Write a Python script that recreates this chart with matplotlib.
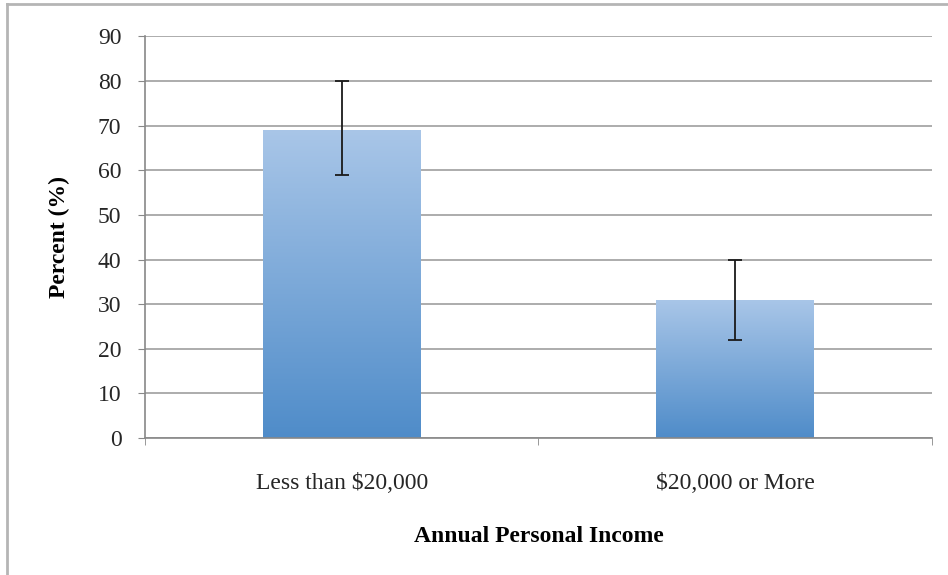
import numpy as np
import matplotlib
matplotlib.use('Agg')
import matplotlib.pyplot as plt
from matplotlib.colors import LinearSegmentedColormap
from matplotlib.lines import Line2D

# data
categories = ['Less than $20,000', '$20,000 or More']
percent = [69, 31]
err_low = [59, 22]
err_high = [80, 40]

plt.rcParams['font.family'] = ['Liberation Serif', 'DejaVu Serif']

fig = plt.figure(figsize=(9.48, 5.75), dpi=100)
ax = fig.add_axes([0.153, 0.238, 0.830, 0.699])

x = np.arange(len(categories))
bars = ax.bar(x, percent, width=0.4, color='none', edgecolor='none', zorder=2)

# vertical gradient fill for each bar
cmap = LinearSegmentedColormap.from_list('bar', ['#4f8cc9', '#a9c6e8'])
grad = np.linspace(0, 1, 256).reshape(-1, 1)
for b in bars:
    x0, y0 = b.get_x(), b.get_y()
    w, h = b.get_width(), b.get_height()
    im = ax.imshow(grad, cmap=cmap, origin='lower', aspect='auto',
                   extent=[x0, x0 + w, y0, y0 + h], zorder=2)
    im.set_clip_path(b)

yerr = [np.array(percent) - np.array(err_low), np.array(err_high) - np.array(percent)]
ax.errorbar(x, percent, yerr=yerr, fmt='none', ecolor='#1a1a1a', elinewidth=1.3,
            capsize=5, capthick=1.3, zorder=3)

ax.set_xlim(-0.5, 1.5)
ax.set_ylim(0, 90)
ax.set_yticks(range(0, 91, 10))
ax.yaxis.grid(True, color='#a6a6a6', linewidth=1.3, zorder=0)
ax.set_axisbelow(True)

ax.set_xticks(x)
ax.set_xticklabels(categories, fontsize=17, color='#262626')
ax.tick_params(axis='x', length=0, pad=25)
ax.set_xticks([-0.5, 0.5, 1.5], minor=True)
ax.tick_params(axis='x', which='minor', length=5, color='#888888')
ax.tick_params(axis='y', labelsize=17, labelcolor='#262626', length=5,
               color='#888888', pad=12)

for s in ['top', 'right']:
    ax.spines[s].set_visible(False)
ax.spines['left'].set_color('#888888')
ax.spines['bottom'].set_color('#888888')
ax.spines['left'].set_linewidth(1.2)
ax.spines['bottom'].set_linewidth(1.2)

ax.set_ylabel('Percent (%)', fontsize=17, fontweight='bold')
ax.yaxis.set_label_coords(-0.109, 0.5)
ax.set_xlabel('Annual Personal Income', fontsize=17, fontweight='bold')
ax.xaxis.set_label_coords(0.5, -0.245)
ax.xaxis.label.set_va('center')
ax.yaxis.label.set_va('center')

# light frame around the chart (only left and top edges show in the picture)
fig.add_artist(Line2D([0.0075, 0.0075], [0.0, 0.993], transform=fig.transFigure,
                      color='#b5b5b5', linewidth=2))
fig.add_artist(Line2D([0.0075, 1.0], [0.993, 0.993], transform=fig.transFigure,
                      color='#b5b5b5', linewidth=2))

fig.savefig('out.png', dpi=100)
